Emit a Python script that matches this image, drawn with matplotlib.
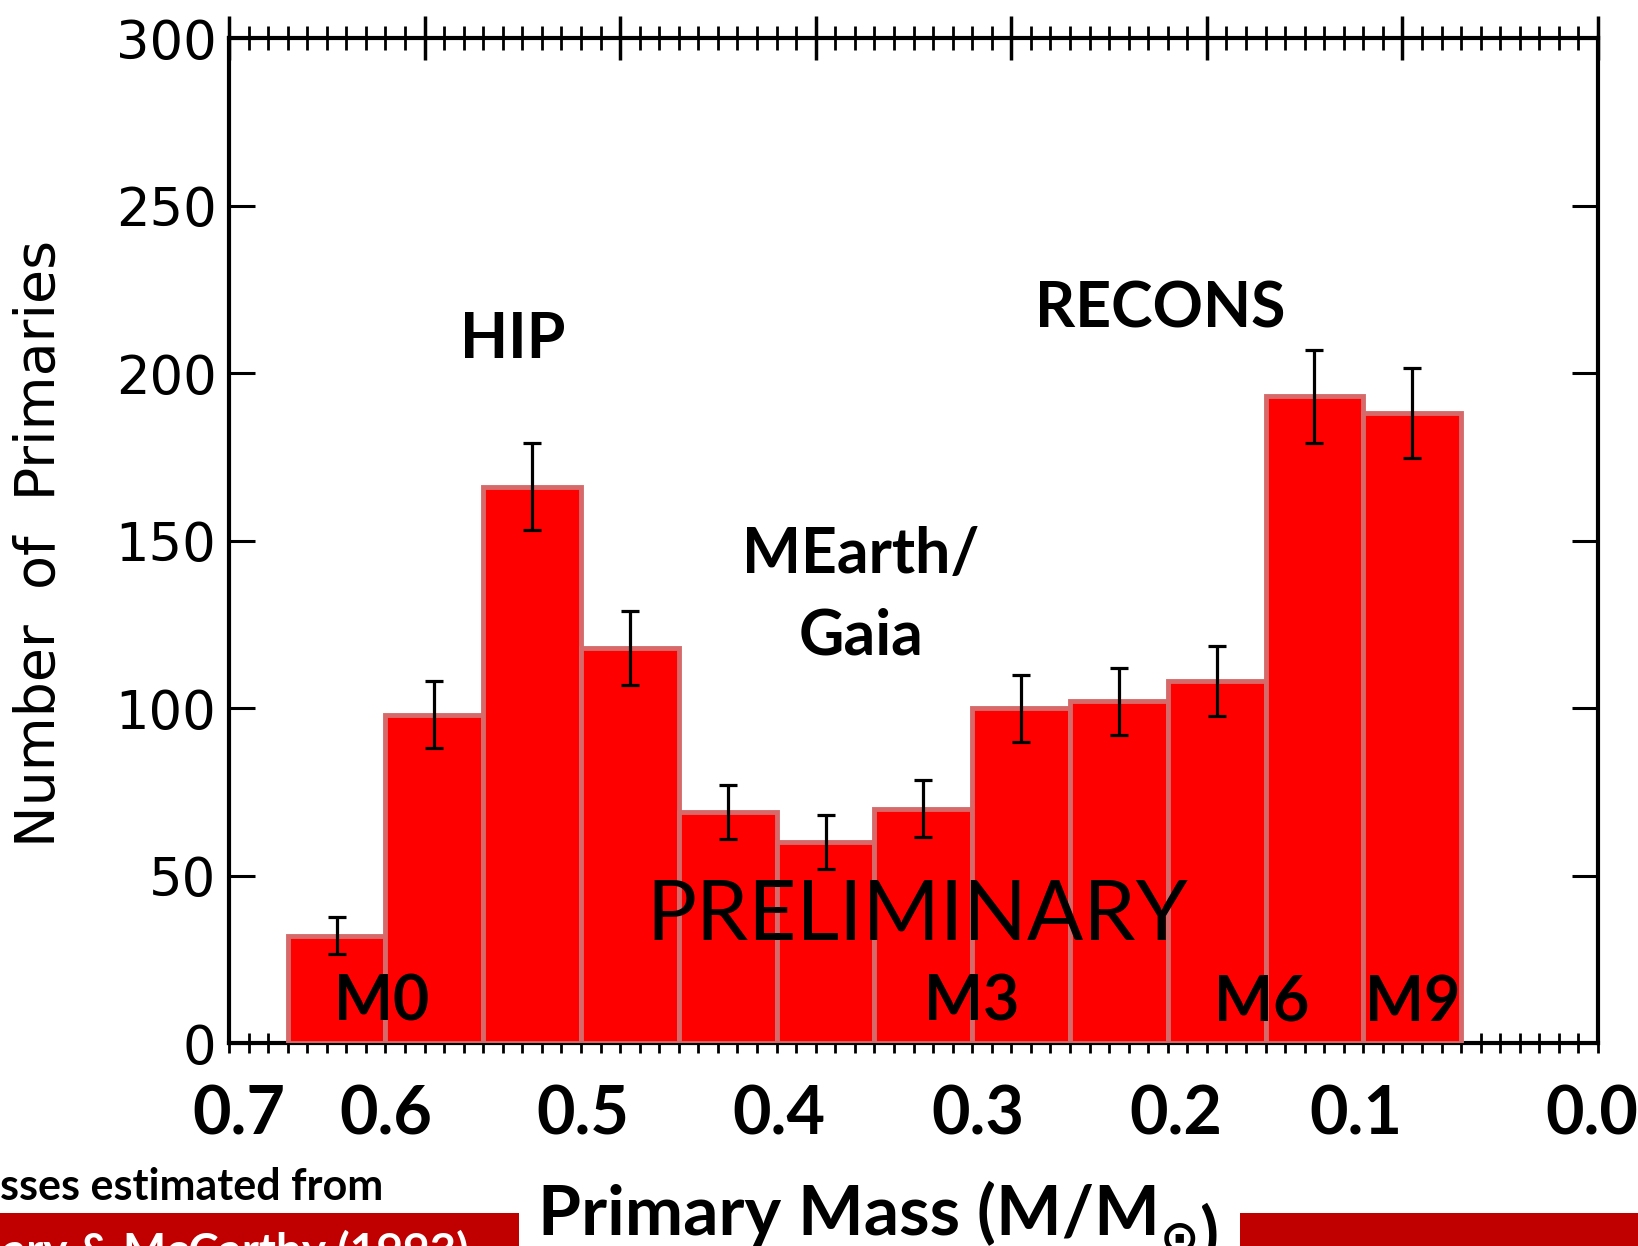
import numpy as np
import matplotlib
matplotlib.use('Agg')
import matplotlib.pyplot as plt
import matplotlib.ticker as ticker
from matplotlib.patches import Rectangle

# histogram of M-dwarf primaries, bins of 0.05 on the (reversed) mass axis
bin_left = [0.67, 0.62, 0.57, 0.52, 0.47, 0.42, 0.37, 0.32, 0.27, 0.22, 0.17, 0.12]
counts = [32, 98, 166, 118, 69, 60, 70, 100, 102, 108, 193, 188]
errors = [5.5, 10, 13, 11, 8, 8, 8.5, 10, 10, 10.5, 14, 13.5]
bin_width = 0.05

mass_labels = ['0.7', '0.6', '0.5', '0.4', '0.3', '0.2', '0.1', '0.0']
mass_label_x = [0.695, 0.620, 0.519, 0.419, 0.317, 0.216, 0.124, 0.003]

spt_labels = ['M0', 'M3', 'M6', 'M9']
spt_label_x = [0.622, 0.320, 0.172, 0.095]

y_ticks = [0, 50, 100, 150, 200, 250, 300]

fig = plt.figure(figsize=(16.38, 12.46), dpi=100)
ax = fig.add_axes([0.1398, 0.1629, 0.8358, 0.8066])

centers = [b - bin_width / 2 for b in bin_left]
ax.bar(centers, counts, width=bin_width, color='#ff0000', edgecolor='#d66a6a',
       linewidth=3.5, zorder=3)
ax.errorbar(centers, counts, yerr=errors, fmt='none', ecolor='black',
            elinewidth=2.3, capsize=6.5, capthick=2.3, zorder=4)

ax.set_xlim(0.7, 0.0)
ax.set_ylim(0, 300)

for s in ax.spines.values():
    s.set_linewidth(3)
ax.set_axisbelow(True)

# y axis: inward ticks both sides
ax.yaxis.set_major_locator(ticker.FixedLocator(y_ticks))
ax.tick_params(axis='y', which='major', direction='in', length=19, width=2.2,
               left=True, right=True, labelsize=38, pad=9)
for lab in ax.get_yticklabels():
    lab.set_fontfamily('DejaVu Sans')

# bottom x axis: small inout ticks only, labels drawn separately
ax.xaxis.set_major_locator(ticker.NullLocator())
ax.xaxis.set_minor_locator(ticker.FixedLocator(np.arange(0, 71) / 100.0))
ax.tick_params(axis='x', which='minor', direction='inout', length=14, width=2,
               bottom=True, top=False)

# top axis
ax2 = ax.twiny()
ax2.set_xlim(0.7, 0.0)
ax2.xaxis.set_major_locator(ticker.FixedLocator(np.arange(0, 8) / 10.0))
ax2.xaxis.set_minor_locator(ticker.FixedLocator(np.arange(0, 71) / 100.0))
ax2.tick_params(axis='x', which='major', direction='inout', length=32, width=2.5,
                labeltop=False)
ax2.tick_params(axis='x', which='minor', direction='inout', length=17, width=2)
for s in ax2.spines.values():
    s.set_visible(False)

fig.text(40 / 1638, 0.564, 'Number  of  Primaries', rotation=90, ha='center',
         va='center', fontsize=40, family='DejaVu Sans')

# mass labels under the axis
for lab, x in zip(mass_labels, mass_label_x):
    ax.text(x, -21.5, lab, ha='center', va='center', fontsize=48,
            fontweight='bold', family='Lato', clip_on=False)

bold = dict(fontsize=45, fontweight='bold', family='Lato', ha='center',
            va='center', zorder=6)
ax.text(0.555, 210, 'HIP', **bold)
ax.text(0.224, 219, 'RECONS', **bold)
ax.text(0.377, 133.5, 'MEarth/\nGaia', linespacing=1.5, **bold)
for lab, x in zip(spt_labels, spt_label_x):
    ax.text(x, 12.0, lab, **bold)
ax.text(0.348, 37.5, 'PRELIMINARY', fontsize=60, family='Lato', ha='center',
        va='center', zorder=6)

# slide footer
fig.add_artist(Rectangle((0, 0), 519 / 1638, 33 / 1246, transform=fig.transFigure,
                         facecolor='#c00000', edgecolor='none'))
fig.add_artist(Rectangle((1240 / 1638, 0), 398 / 1638, 33 / 1246,
                         transform=fig.transFigure, facecolor='#c00000',
                         edgecolor='none'))
fig.text(0.0, 1 - 1200 / 1246, 'sses estimated from', ha='left', va='baseline',
         fontsize=31, fontweight='bold', family='Lato')
fig.text(3 / 1638, 1 - 1266 / 1246, 'ary & McCarthy (1993)', ha='left',
         va='baseline', fontsize=33, fontweight='bold', family='Lato',
         color='white')

# x-axis title with a solar subscript
xt = fig.text(538 / 1638, 1 - 1235 / 1246, 'Primary Mass (M/M', ha='left',
              va='baseline', fontsize=50, fontweight='bold', family='Lato')
sun = ax.annotate('\u2299', xy=(1, 0), xycoords=xt, xytext=(0, -4),
                  textcoords='offset points', ha='left', va='baseline',
                  fontsize=34, fontweight='bold', family='DejaVu Sans',
                  annotation_clip=False)
ax.annotate(')', xy=(1, 0), xycoords=sun, xytext=(0, 4),
            textcoords='offset points', ha='left', va='baseline',
            fontsize=50, fontweight='bold', family='Lato',
            annotation_clip=False)

fig.savefig('out.png', dpi=100)
